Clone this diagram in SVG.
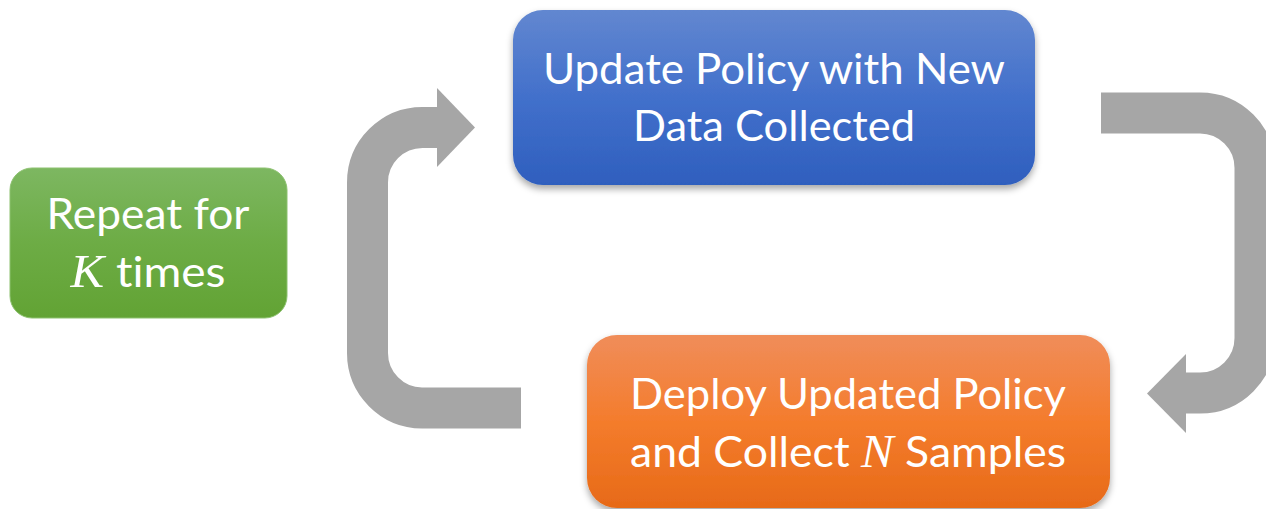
<svg xmlns="http://www.w3.org/2000/svg" width="1266" height="509" viewBox="0 0 1266 509">
<defs>
<linearGradient id="gBlue" x1="0" y1="0" x2="0" y2="1"><stop offset="0" stop-color="#6287d0"/><stop offset="0.5" stop-color="#4270cb"/><stop offset="1" stop-color="#2f5fbe"/></linearGradient>
<linearGradient id="gOrange" x1="0" y1="0" x2="0" y2="1"><stop offset="0" stop-color="#f08d5a"/><stop offset="0.5" stop-color="#f47c2c"/><stop offset="1" stop-color="#e76a18"/></linearGradient>
<linearGradient id="gGreen" x1="0" y1="0" x2="0" y2="1"><stop offset="0" stop-color="#7db761"/><stop offset="0.5" stop-color="#6dac45"/><stop offset="1" stop-color="#62a334"/></linearGradient>
<filter id="sh" x="-5%" y="-10%" width="110%" height="125%"><feDropShadow dx="0" dy="4" stdDeviation="3.5" flood-color="#000" flood-opacity="0.35"/></filter>
</defs>
<style>
.lbl{font-family:"Lato","Open Sans","Liberation Sans",sans-serif;font-size:42px;fill:#fff;text-anchor:middle;font-variant-ligatures:none;font-feature-settings:"liga" 0}
.m{font-family:"Liberation Serif",serif;font-style:italic;font-size:46px}
.arr{fill:none;stroke:#a6a6a6;stroke-width:41}
.head{fill:#a6a6a6}
</style>
<rect width="1266" height="509" fill="#fff"/>
<g id="connectors">
<path class="arr" d="M521,408 H422 A55,55 0 0 1 367.5,353 V182.5 A55,55 0 0 1 422.5,127.5 H438"/>
<polygon class="head" points="437,88 475,127.5 437,167"/>
<path class="arr" d="M1101,113 H1200 A55,55 0 0 1 1255,168 V338 A55,55 0 0 1 1200,393 H1185"/>
<polygon class="head" points="1186,354 1147,393.5 1186,433"/>
</g>
<g id="update">
<rect x="513" y="10" width="522" height="175" rx="30" fill="url(#gBlue)" filter="url(#sh)"/>
<text class="lbl" x="774" y="84" textLength="462" lengthAdjust="spacingAndGlyphs">Update Policy with New</text>
<text class="lbl" x="774" y="141" textLength="282" lengthAdjust="spacingAndGlyphs">Data Collected</text>
</g>
<g id="deploy">
<rect x="587" y="335" width="523" height="173" rx="30" fill="url(#gOrange)" filter="url(#sh)"/>
<text class="lbl" x="848" y="409" textLength="436" lengthAdjust="spacingAndGlyphs">Deploy Updated Policy</text>
<text class="lbl" x="848" y="467" textLength="436" lengthAdjust="spacingAndGlyphs">and Collect <tspan class="m">N</tspan> Samples</text>
</g>
<g id="repeat">
<rect x="10" y="168" width="277" height="150" rx="22" fill="url(#gGreen)" stroke="#8cc16f" stroke-width="1"/>
<text class="lbl" x="148" y="229" textLength="203" lengthAdjust="spacingAndGlyphs">Repeat for</text>
<text class="lbl" x="148" y="287" textLength="155" lengthAdjust="spacingAndGlyphs"><tspan class="m">K</tspan> times</text>
</g>
</svg>
